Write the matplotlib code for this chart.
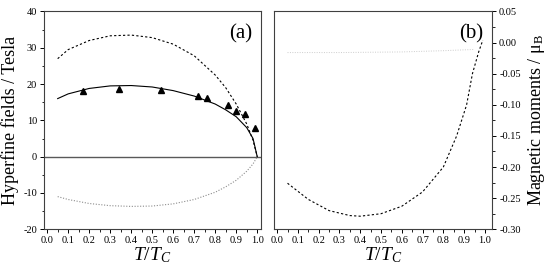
import matplotlib
matplotlib.use("Agg")
import matplotlib.pyplot as plt
from matplotlib.ticker import MultipleLocator

plt.rcParams["font.family"] = ["Liberation Serif", "DejaVu Serif"]
plt.rcParams["mathtext.fontset"] = "custom"
plt.rcParams["mathtext.it"] = "Liberation Serif:italic"
plt.rcParams["mathtext.rm"] = "Liberation Serif"
plt.rcParams["axes.unicode_minus"] = False

# panel (a): measured hyperfine fields
meas_t = [0.17, 0.34, 0.54, 0.72, 0.76, 0.86, 0.90, 0.94, 0.99]
meas_b = [18.2, 18.6, 18.3, 16.6, 16.3, 14.2, 12.6, 11.8, 7.8]

# panel (a): model curves
curve_t = [0.05, 0.1, 0.2, 0.3, 0.4, 0.5, 0.6, 0.7, 0.8, 0.85, 0.9, 0.95, 0.98, 1.0]
total_b = [16.0, 17.3, 18.8, 19.5, 19.6, 19.2, 18.2, 16.7, 14.5, 12.9, 11.0, 8.0, 5.0, 0.0]
upper_b = [27.0, 29.5, 32.0, 33.3, 33.5, 32.8, 31.0, 27.8, 22.5, 19.0, 14.5, 9.0, 4.5, 0.0]
lower_b = [-11.0, -11.8, -12.9, -13.5, -13.7, -13.6, -13.0, -11.8, -9.8, -8.3, -6.5, -4.0, -2.0, 0.0]

# panel (b): magnetic moments
mom_t = [0.05, 0.15, 0.25, 0.35, 0.4, 0.5, 0.6, 0.7, 0.8, 0.864, 0.912, 0.94, 0.97, 0.99]
mom_main = [-0.226, -0.252, -0.270, -0.278, -0.279, -0.275, -0.263, -0.240, -0.200, -0.150, -0.100, -0.050, -0.015, 0.004]
mom_small_t = [0.05, 0.3, 0.6, 0.8, 0.95]
mom_small = [-0.016, -0.016, -0.015, -0.013, -0.011]

fig = plt.figure(figsize=(5.53, 2.71), dpi=100)
ax1 = fig.add_axes([0.0796, 0.154, 0.3924, 0.8036])
ax2 = fig.add_axes([0.4955, 0.154, 0.3945, 0.8036])

tick_fs = 7.5

ax1.axhline(0, color="0.35", lw=1.0)
ax1.plot(curve_t, total_b, color="black", lw=0.8)
ax1.plot(curve_t, upper_b, color="black", lw=0.8, ls=(0, (2, 2)))
ax1.plot(curve_t, lower_b, color="0.55", lw=0.8, ls=(0, (1, 1.5)))
ax1.plot(meas_t, meas_b, "^", color="black", ms=5)
ax1.set_xlim(-0.015, 1.018)
ax1.set_ylim(-20, 40)
ax1.xaxis.set_major_locator(MultipleLocator(0.1))
ax1.xaxis.set_minor_locator(MultipleLocator(0.05))
ax1.yaxis.set_major_locator(MultipleLocator(10))
ax1.yaxis.set_minor_locator(MultipleLocator(5))
ax1.set_xticklabels([f"{v:.1f}" for v in ax1.get_xticks()])
ax1.tick_params(labelsize=tick_fs, direction="out", length=3, width=0.7, pad=2)
ax1.tick_params(which="minor", length=1.8, width=0.6)
ax1.set_ylabel("Hyperfine fields / Tesla", fontsize=13, labelpad=3)
ax1.set_xlabel(r"$T/T_C$", fontsize=14, labelpad=0)
ax1.text(0.96, 0.94, "(a)", transform=ax1.transAxes, ha="right", va="top", fontsize=15)

ax2.plot(mom_small_t, mom_small, color="0.8", lw=0.7, ls=(0, (1, 1.5)))
ax2.plot(mom_t, mom_main, color="black", lw=0.8, ls=(0, (2, 2)))
ax2.set_xlim(-0.015, 1.035)
ax2.set_ylim(-0.30, 0.05)
ax2.xaxis.set_major_locator(MultipleLocator(0.1))
ax2.xaxis.set_minor_locator(MultipleLocator(0.05))
ax2.yaxis.set_major_locator(MultipleLocator(0.05))
ax2.yaxis.set_minor_locator(MultipleLocator(0.025))
ax2.yaxis.tick_right()
ax2.yaxis.set_label_position("right")
ax2.set_xticklabels([f"{v:.1f}" for v in ax2.get_xticks()])
ax2.set_yticklabels([f"{v:.2f}" for v in ax2.get_yticks()])
ax2.tick_params(labelsize=tick_fs, direction="out", length=3, width=0.7, pad=2)
ax2.tick_params(which="minor", length=1.8, width=0.6)
ax2.set_ylabel(r"Magnetic moments / $\mathrm{\mu}_\mathrm{B}$", fontsize=13, labelpad=4)
ax2.set_xlabel(r"$T/T_C$", fontsize=14, labelpad=0)
ax2.text(0.96, 0.94, "(b)", transform=ax2.transAxes, ha="right", va="top", fontsize=15)

for ax in (ax1, ax2):
    for s in ax.spines.values():
        s.set_linewidth(0.8)
        s.set_color("0.25")

fig.savefig("out.png", dpi=100)
